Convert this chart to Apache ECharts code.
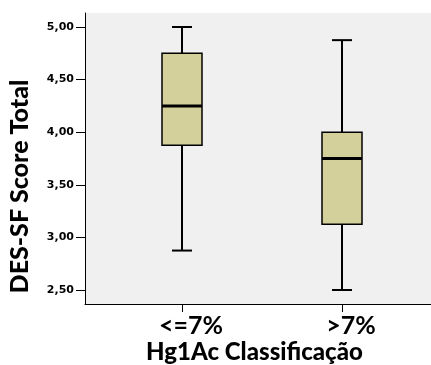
<!DOCTYPE html>
<html>
<head>
<meta charset="utf-8">
<script src="https://cdn.jsdelivr.net/npm/echarts@6/dist/echarts.min.js"></script>
<style>
  html, body { margin: 0; padding: 0; background: #fff; }
  #chart-container { width: 431px; height: 365px; }
</style>
</head>
<body>
<div id="chart-container"></div>
<script>
var categories = ['<=7%', '>7%'];
var lowWhisker = [2.875, 2.5];
var q1 = [3.875, 3.125];
var median = [4.25, 3.75];
var q3 = [4.75, 4.0];
var highWhisker = [5.0, 4.875];
var yTicks = [2.5, 3.0, 3.5, 4.0, 4.5, 5.0];

var yMin = 2.367, yMax = 5.133;

var boxData = categories.map(function (c, i) {
    return [i, lowWhisker[i], q1[i], median[i], q3[i], highWhisker[i]];
});

var dom = document.getElementById('chart-container');
var myChart = echarts.init(dom, null, { renderer: 'canvas' });

function renderBox(params, api) {
    var i = api.value(0);
    var pLow = api.coord([i, api.value(1)]);
    var pQ1 = api.coord([i, api.value(2)]);
    var pMed = api.coord([i, api.value(3)]);
    var pQ3 = api.coord([i, api.value(4)]);
    var pHigh = api.coord([i, api.value(5)]);
    var x = pMed[0];
    var boxW = 40, capW = 20;
    var line = { stroke: '#000', lineWidth: 2 };
    return {
        type: 'group',
        children: [
            { type: 'line', shape: { x1: x, y1: pLow[1], x2: x, y2: pQ1[1] }, style: line },
            { type: 'line', shape: { x1: x, y1: pQ3[1], x2: x, y2: pHigh[1] }, style: line },
            { type: 'line', shape: { x1: x - capW / 2, y1: pLow[1], x2: x + capW / 2, y2: pLow[1] }, style: line },
            { type: 'line', shape: { x1: x - capW / 2, y1: pHigh[1], x2: x + capW / 2, y2: pHigh[1] }, style: line },
            { type: 'rect', shape: { x: x - boxW / 2, y: pQ3[1], width: boxW, height: pQ1[1] - pQ3[1] },
              style: { fill: '#d4d09b', stroke: '#000', lineWidth: 1.5 } },
            { type: 'line', shape: { x1: x - boxW / 2, y1: pMed[1], x2: x + boxW / 2, y2: pMed[1] },
              style: { stroke: '#000', lineWidth: 3 } }
        ]
    };
}

var option = {
    animation: false,
    grid: [
        { left: 85, right: 0, top: 13, bottom: 61, show: true, backgroundColor: '#f0f0f0', borderWidth: 0,
          outerBoundsMode: 'none', containLabel: false },
        { left: 102, width: 320, top: 13, bottom: 61, outerBoundsMode: 'none', containLabel: false }
    ],
    xAxis: [
        {
            gridIndex: 0, type: 'value', min: 0, max: 1,
            axisLine: { show: true, lineStyle: { color: '#000', width: 1 } },
            axisTick: { show: false }, axisLabel: { show: false }, splitLine: { show: false },
            name: 'Hg1Ac Classificação', nameLocation: 'middle', nameGap: 36,
            nameTextStyle: { fontFamily: 'Lato', fontWeight: 900, fontSize: 24, color: '#000',
                             padding: [0, 7, 0, 0] }
        },
        {
            gridIndex: 1, type: 'category', data: categories,
            axisLine: { show: false },
            axisTick: { show: true, alignWithLabel: true, length: 8, lineStyle: { color: '#000' } },
            axisLabel: { margin: 9, fontFamily: 'Lato', fontWeight: 'bold', fontSize: 25, color: '#000',
                         padding: [0, 0, 0, 18] }
        }
    ],
    yAxis: [
        {
            gridIndex: 0, type: 'value', min: yMin, max: yMax,
            axisLine: { show: true, lineStyle: { color: '#000', width: 1 } },
            axisTick: { show: true, length: 9, customValues: yTicks, lineStyle: { color: '#000' } },
            axisLabel: {
                customValues: yTicks, margin: 11,
                fontFamily: 'DejaVu Sans', fontWeight: 'bold', fontSize: 11, color: '#000',
                formatter: function (v) { return v.toFixed(2).replace('.', ','); }
            },
            splitLine: { show: false },
            name: 'DES-SF Score Total', nameLocation: 'middle', nameRotate: 90, nameGap: 53,
            nameTextStyle: { fontFamily: 'Lato', fontWeight: 900, fontSize: 25, color: '#000',
                             padding: [0, 56, 0, 0] }
        },
        {
            gridIndex: 1, type: 'value', min: yMin, max: yMax, show: false
        }
    ],
    series: [
        {
            type: 'custom',
            xAxisIndex: 1, yAxisIndex: 1,
            renderItem: renderBox,
            encode: { x: 0, y: [1, 2, 3, 4, 5] },
            data: boxData
        }
    ]
};

myChart.setOption(option);
</script>
</body>
</html>
